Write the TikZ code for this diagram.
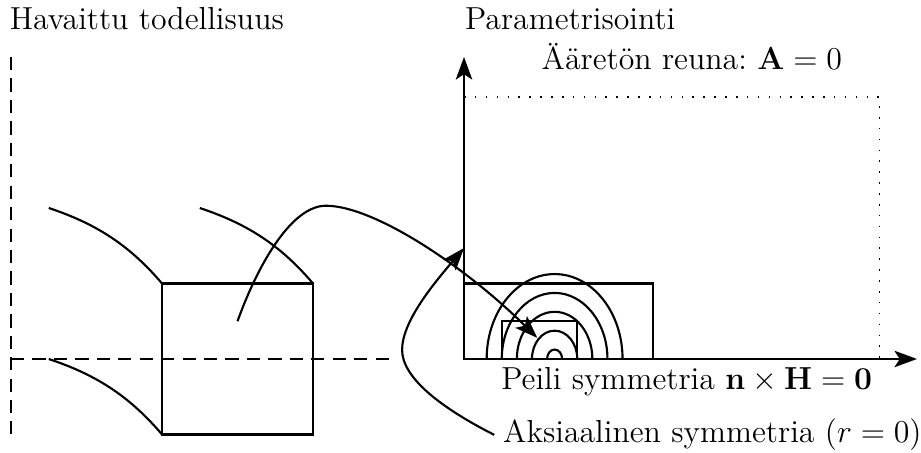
\documentclass[tikz,border=0pt]{standalone}
\usetikzlibrary{arrows.meta}
\tikzset{
    viiva/.style={thick},
    katko/.style={thick, dash pattern=on 5pt off 3.08pt},
    pisteet/.style={line width=0.45pt, dash pattern=on 0.6pt off 3.5pt},
    nuoli/.style={thick, -{Stealth[length=8.5pt,width=6.2pt,inset=2pt]}},
    teksti/.style={font=\large, inner sep=0pt, anchor=base west}
}
\begin{document}
\begin{tikzpicture}
[
    viiva
]
    \useasboundingbox (-0.146,-1.245) rectangle (12.053,4.755);

    % left side
    \begin{scope}
        \node [teksti] (havaittu) at (-0.03,4.358) {Havaittu todellisuus};
        \draw [katko] (0,4) -- (0,-1);
        \draw [katko] (0,0) -- (5.02,0);
        \draw (2,-1) rectangle (4,1);
        \draw (0.5,2) .. controls (1.1,1.8) and (1.55,1.53) .. (2,1);
        \draw (2.5,2) .. controls (3.1,1.8) and (3.55,1.53) .. (4,1);
        \draw (0.5,0) .. controls (1.1,-0.2) and (1.55,-0.47) .. (2,-1);
    \end{scope}

    % right side
    \begin{scope}[shift={(6,0)}]
        \node [teksti] (parametrisointi) at (0,4.358) {Parametrisointi};
        \node [teksti] (reuna) at (1.015,3.83) {Ääretön reuna:\ $\mathbf{A}=0$};
        \node [teksti] (peili) at (0.48,-0.41) {Peili symmetria $\mathbf{n}\times\mathbf{H}=\mathbf{0}$};
        \node [teksti, inner sep=3pt] (aksiaalinen) at (0.4,-1.11) {Aksiaalinen symmetria $(r=0)$};

        \draw [nuoli] (0,0) -- (0,4);
        \draw [nuoli] (0,0) -- (6,0);
        \draw [pisteet] (0,3.47) -- (5.5,3.47) -- (5.5,0);
        \draw (0,0) rectangle (2.5,1);
        \draw (0.5,0) rectangle (1.5,0.5);

        \draw (1.3,0) arc (0:180:0.1 and 0.125);
        \draw (1.5,0) arc (0:180:0.3 and 0.375);
        \draw (1.7,0) arc (0:180:0.5 and 0.625);
        \draw (1.9,0) arc (0:180:0.7 and 0.875);
        \draw (2.1,0) arc (0:180:0.9 and 1.125);

        \coordinate (maali) at (0,1.47);
        \coordinate (keski) at (0.97,0.28);
        \draw [nuoli] (aksiaalinen.west) .. controls (-0.3,-0.65) and (-0.82,-0.25) .. (-0.82,0.12)
            .. controls (-0.82,0.5) and (-0.4,1.0) .. (maali);
        \draw [nuoli] (-3,0.5) .. controls (-2.75,1.2) and (-2.3,2.03) .. (-1.83,2.03)
            .. controls (-1.2,2.03) and (0,1.24) .. (keski);
    \end{scope}
\end{tikzpicture}
\end{document}
